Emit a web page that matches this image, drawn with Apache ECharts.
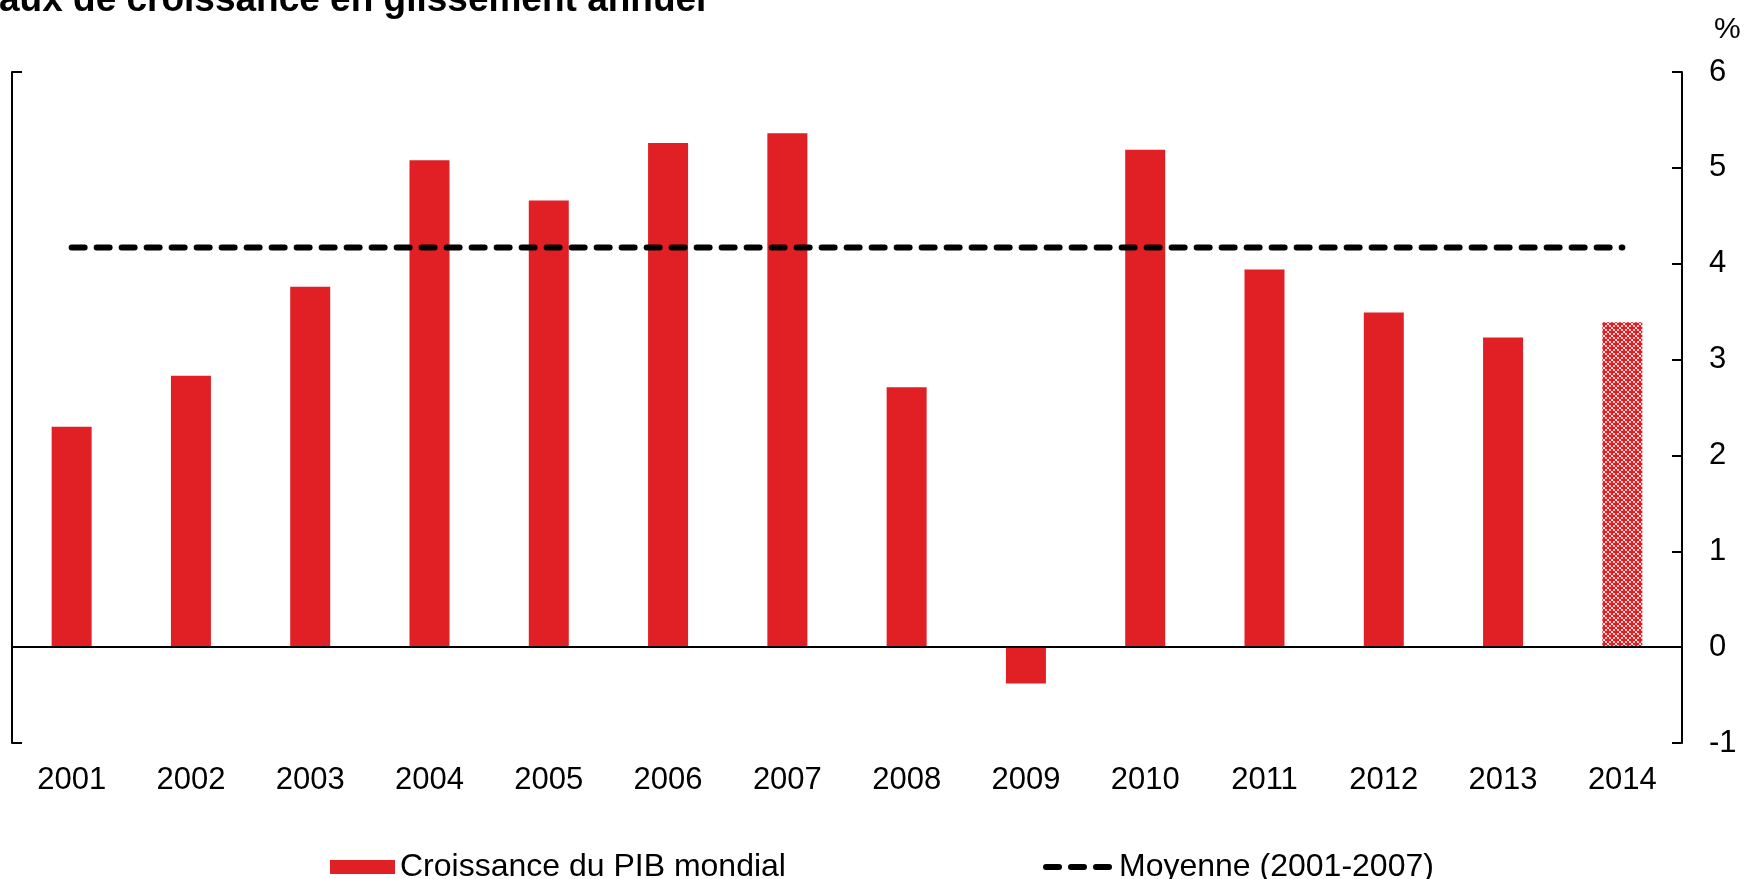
<!DOCTYPE html>
<html>
<head>
<meta charset="utf-8">
<script src="https://cdn.jsdelivr.net/npm/echarts@6/dist/echarts.min.js"></script>
<style>
  html, body { margin: 0; padding: 0; background: #fff; }
  #chart { width: 1746px; height: 879px; }
</style>
</head>
<body>
<div id="chart"></div>
<script>
const years = ["2001", "2002", "2003", "2004", "2005", "2006", "2007",
  "2008", "2009", "2010", "2011", "2012", "2013", "2014"];
const croissance = [2.30, 2.83, 3.76, 5.08, 4.66, 5.26, 5.36, 2.71, -0.38, 5.19, 3.94, 3.49, 3.23, 3.39];
const moyenne = 4.17;
const yTicks = { min: -1, max: 6, interval: 1 };

const FONT = "'Liberation Sans', Arial, sans-serif";
const RED = "#e02024";

// hatched fill for the last (forecast) bar
function makePattern() {
  const c = document.createElement("canvas");
  c.width = 8; c.height = 8;
  const ctx = c.getContext("2d");
  ctx.fillStyle = "#f8c4c4";
  ctx.fillRect(0, 0, 8, 8);
  ctx.fillStyle = RED;
  const cross = (x, y) => {
    ctx.fillRect(x - 1, y - 3, 2, 6);
    ctx.fillRect(x - 3, y - 1, 6, 2);
  };
  cross(4, 4); cross(0, 0); cross(8, 0); cross(0, 8); cross(8, 8);
  ctx.fillStyle = "#ffffff";
  ctx.fillRect(0, 4, 1, 1); ctx.fillRect(4, 0, 1, 1);
  return { image: c, repeat: "repeat" };
}

const barData = croissance.map((v, i) =>
  i === croissance.length - 1 ? { value: v, itemStyle: { color: makePattern() } } : v
);

const chart = echarts.init(document.getElementById("chart"));
chart.setOption({
  backgroundColor: "#fff",
  animation: false,
  textStyle: { fontFamily: FONT, color: "#000" },
  title: {
    text: "aux de croissance en glissement annuel",
    left: -1, top: -18, padding: 0,
    textStyle: { fontFamily: FONT, fontSize: 37, fontWeight: "bold", color: "#000" }
  },
  graphic: [{
    type: "text", left: 1714, top: 15,
    style: { text: "%", font: "30px " + FONT, fill: "#000" }
  }],
  legend: [
    {
      left: 325, top: 846, itemWidth: 65, itemHeight: 14,
      data: [{ name: "Croissance du PIB mondial", icon: "rect" }],
      textStyle: { fontFamily: FONT, fontSize: 32, color: "#000" }
    },
    {
      left: 1038, top: 846, itemWidth: 68, itemHeight: 14,
      data: [{ name: "Moyenne (2001-2007)", itemStyle: { opacity: 0 } }],
      lineStyle: { type: [13, 12], width: 6, cap: "round", color: "#000" },
      textStyle: { fontFamily: FONT, fontSize: 32, color: "#000" }
    }
  ],
  grid: { left: 12, right: 64, top: 72, bottom: 136 },
  xAxis: {
    type: "category",
    data: years,
    axisLine: { lineStyle: { color: "#000", width: 2 } },
    axisTick: { inside: true, length: 9, lineStyle: { color: "#000", width: 2 } },
    axisLabel: { fontFamily: FONT, fontSize: 31, color: "#000", margin: 22 }
  },
  yAxis: [
    {
      type: "value", position: "right",
      min: yTicks.min, max: yTicks.max, interval: yTicks.interval,
      axisLine: { show: true, lineStyle: { color: "#000", width: 2 } },
      axisTick: { show: true, inside: true, length: 10, lineStyle: { color: "#000", width: 2 } },
      axisLabel: { fontFamily: FONT, fontSize: 31, color: "#000", margin: 27 },
      splitLine: { show: false }
    },
    {
      type: "value", position: "left",
      min: yTicks.min, max: yTicks.max, interval: yTicks.max - yTicks.min,
      axisLine: { show: true, lineStyle: { color: "#000", width: 2 } },
      axisTick: { show: true, inside: true, length: 10, lineStyle: { color: "#000", width: 2 } },
      axisLabel: { show: false },
      splitLine: { show: false }
    }
  ],
  series: [
    {
      name: "Croissance du PIB mondial",
      type: "bar",
      yAxisIndex: 0,
      barWidth: 40,
      itemStyle: { color: RED },
      data: barData,
      markLine: {
        silent: true, symbol: "none", label: { show: false },
        lineStyle: { color: "#000", width: 2, type: "solid" },
        data: [{ yAxis: 0 }]
      }
    },
    {
      name: "Moyenne (2001-2007)",
      type: "line",
      yAxisIndex: 0,
      symbol: "none",
      itemStyle: { color: "#000" },
      lineStyle: { color: "#000", width: 6, type: [13, 12], cap: "round" },
      data: years.map(() => moyenne),
      z: 5
    }
  ]
});
</script>
</body>
</html>
